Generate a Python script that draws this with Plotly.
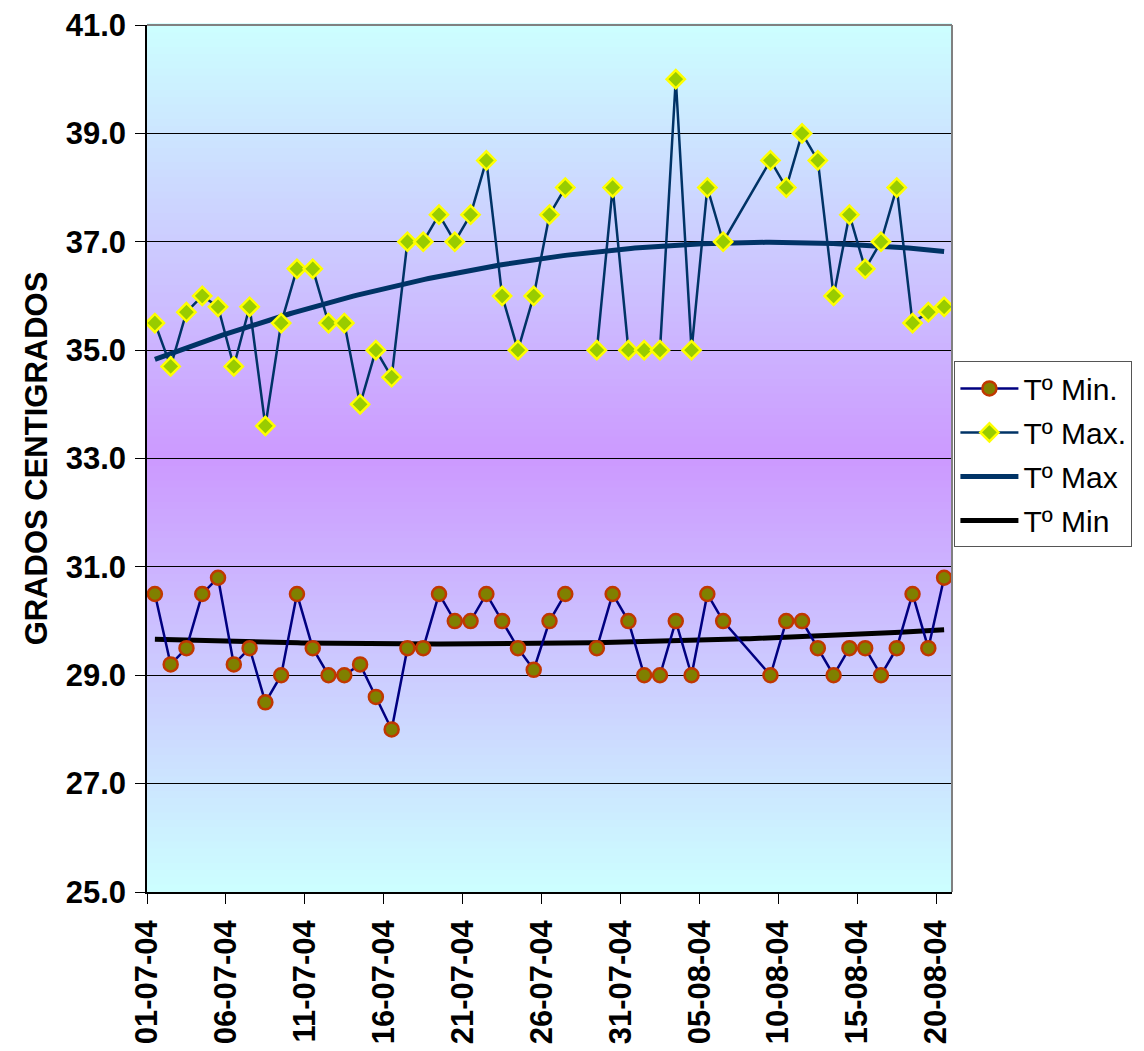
import numpy as np
import pandas as pd
import plotly.graph_objects as go

# ---------------- data ----------------
dates = [
    "2004-07-01", "2004-07-02", "2004-07-03", "2004-07-04", "2004-07-05",
    "2004-07-06", "2004-07-07", "2004-07-08", "2004-07-09", "2004-07-10",
    "2004-07-11", "2004-07-12", "2004-07-13", "2004-07-14", "2004-07-15",
    "2004-07-16", "2004-07-17", "2004-07-18", "2004-07-19", "2004-07-20",
    "2004-07-21", "2004-07-22", "2004-07-23", "2004-07-24", "2004-07-25",
    "2004-07-26", "2004-07-27", "2004-07-28", "2004-07-29", "2004-07-30",
    "2004-07-31", "2004-08-01", "2004-08-02", "2004-08-03", "2004-08-04",
    "2004-08-05", "2004-08-06", "2004-08-09", "2004-08-10", "2004-08-11",
    "2004-08-12", "2004-08-13", "2004-08-14", "2004-08-15", "2004-08-16",
    "2004-08-17", "2004-08-18", "2004-08-19", "2004-08-20",
]
t_max = [
    35.5, 34.7, 35.7, 36.0, 35.8, 34.7, 35.8, 33.6, 35.5, 36.5,
    36.5, 35.5, 35.5, 34.0, 35.0, 34.5, 37.0, 37.0, 37.5, 37.0,
    37.5, 38.5, 36.0, 35.0, 36.0, 37.5, 38.0, None, 35.0, 38.0,
    35.0, 35.0, 35.0, 40.0, 35.0, 38.0, 37.0, 38.5, 38.0, 39.0,
    38.5, 36.0, 37.5, 36.5, 37.0, 38.0, 35.5, 35.7, 35.8,
]
t_min = [
    30.5, 29.2, 29.5, 30.5, 30.8, 29.2, 29.5, 28.5, 29.0, 30.5,
    29.5, 29.0, 29.0, 29.2, 28.6, 28.0, 29.5, 29.5, 30.5, 30.0,
    30.0, 30.5, 30.0, 29.5, 29.1, 30.0, 30.5, None, 29.5, 30.5,
    30.0, 29.0, 29.0, 30.0, 29.0, 30.5, 30.0, 29.0, 30.0, 30.0,
    29.5, 29.0, 29.5, 29.5, 29.0, 29.5, 30.5, 29.5, 30.8,
]
tick_dates = ["2004-07-01", "2004-07-06", "2004-07-11", "2004-07-16", "2004-07-21",
              "2004-07-26", "2004-07-31", "2004-08-05", "2004-08-10", "2004-08-15",
              "2004-08-20"]
tick_labels = ["01-07-04", "06-07-04", "11-07-04", "16-07-04", "21-07-04",
               "26-07-04", "31-07-04", "05-08-04", "10-08-04", "15-08-04",
               "20-08-04"]
y_ticks = [25, 27, 29, 31, 33, 35, 37, 39, 41]

# ---------------- helpers ----------------
x = pd.to_datetime(dates)
t0 = x[0]


def poly_trend(values, deg=2):
    v = np.array([np.nan if a is None else a for a in values], dtype=float)
    d = np.array((x - t0).days, dtype=float)
    m = ~np.isnan(v)
    c = np.polyfit(d[m], v[m], deg)
    dd = np.linspace(d[m].min(), d[m].max(), 200)
    return t0 + pd.to_timedelta(dd, unit="D"), np.polyval(c, dd)


FONT = "Liberation Sans, Arial, sans-serif"

fig = go.Figure()

# trend lines (drawn first, below the data)
tx, ty = poly_trend(t_max)
fig.add_trace(go.Scatter(x=tx, y=ty, mode="lines", name="Tº Max",
                         legendgroup="c", legendrank=3,
                         line=dict(color="#003366", width=5)))
tx, ty = poly_trend(t_min)
fig.add_trace(go.Scatter(x=tx, y=ty, mode="lines", name="Tº Min",
                         legendgroup="d", legendrank=4,
                         line=dict(color="#000000", width=5)))

fig.add_trace(go.Scatter(
    x=x, y=t_min, mode="lines+markers", name="Tº Min.",
    legendgroup="a", legendrank=1, connectgaps=False,
    line=dict(color="#000080", width=2.5),
    marker=dict(symbol="circle", size=14, color="#808000",
                line=dict(color="#C03800", width=2.5)),
))
fig.add_trace(go.Scatter(
    x=x, y=t_max, mode="lines+markers", name="Tº Max.",
    legendgroup="b", legendrank=2, connectgaps=False,
    line=dict(color="#003366", width=2.5),
    marker=dict(symbol="diamond", size=14, color="#99CC00",
                line=dict(color="#FFFF00", width=2.5)),
))

# gradient background: cyan at the edges, purple in the middle
shapes = []
n = 120
top = np.array([204, 255, 255])
mid = np.array([204, 153, 255])
for i in range(n):
    f = (i + 0.5) / n
    w = 1 - abs(f - 0.5) * 2
    c = top + (mid - top) * w
    shapes.append(dict(type="rect", xref="paper", yref="paper",
                       x0=0, x1=1, y0=i / n, y1=(i + 1) / n + 0.002,
                       fillcolor="rgb(%d,%d,%d)" % tuple(c.round()),
                       line=dict(width=0), layer="below"))
# grey frame on top and right
shapes.append(dict(type="line", xref="paper", yref="paper", x0=0, x1=1, y0=1, y1=1,
                   line=dict(color="#808080", width=2), layer="above"))
shapes.append(dict(type="line", xref="paper", yref="paper", x0=1, x1=1, y0=0, y1=1,
                   line=dict(color="#808080", width=2), layer="above"))

tickvals = pd.to_datetime(tick_dates) - pd.Timedelta(hours=12)
xrange = [t0 - pd.Timedelta(hours=12), x[-1] + pd.Timedelta(hours=12)]

fig.update_layout(
    width=1136, height=1043,
    margin=dict(l=139, r=190, t=17, b=159),
    paper_bgcolor="white",
    plot_bgcolor="rgb(204,255,255)",
    shapes=shapes,
    font=dict(family=FONT, color="black"),
    showlegend=True,
    legend=dict(x=1.003, y=0.612, xanchor="left", yanchor="top",
                bordercolor="#555555", borderwidth=1, bgcolor="white",
                font=dict(family=FONT, size=30, color="black"),
                itemwidth=58, tracegroupgap=2, traceorder="grouped"),
    xaxis=dict(
        type="date", range=xrange,
        tickmode="array", tickvals=tickvals, ticktext=tick_labels,
        tickangle=-90, tickfont=dict(family=FONT, size=31, weight="bold"),
        ticks="outside", ticklen=10, tickcolor="black", tickwidth=1,
        ticklabelstandoff=4, ticklabeloverflow="allow",
        showgrid=False, showline=True, linecolor="black", linewidth=1.5,
        zeroline=False, automargin=False,
    ),
    yaxis=dict(
        range=[25, 41], tickmode="array", tickvals=y_ticks,
        tickformat=".1f",
        tickfont=dict(family=FONT, size=31, weight="bold"),
        ticks="outside", ticklen=10, tickcolor="black", tickwidth=1,
        ticklabelstandoff=3, ticklabeloverflow="allow",
        showgrid=True, gridcolor="black", gridwidth=1,
        showline=True, linecolor="black", linewidth=1.5, zeroline=False,
        automargin=False,
        title=dict(text="GRADOS CENTIGRADOS", standoff=9,
                   font=dict(family=FONT, size=31, weight="bold")),
    ),
)

fig.write_html("out.html")
